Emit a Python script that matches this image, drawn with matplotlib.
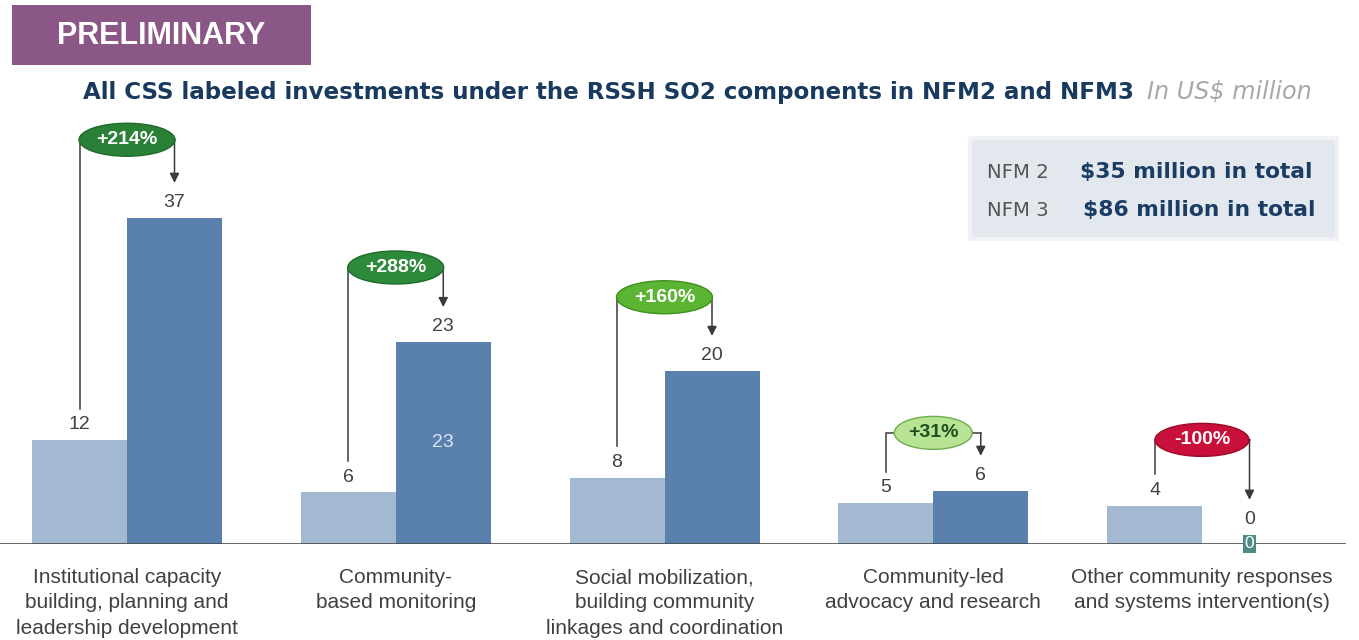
import numpy as np
import matplotlib
matplotlib.use("Agg")
import matplotlib.pyplot as plt
from matplotlib.patches import Ellipse, Rectangle

# ---------------- data ----------------
categories = [
    "Institutional capacity\nbuilding, planning and\nleadership development",
    "Community-\nbased monitoring",
    "Social mobilization,\nbuilding community\nlinkages and coordination",
    "Community-led\nadvocacy and research",
    "Other community responses\nand systems intervention(s)",
]
nfm2 = [11.9, 5.9, 7.6, 4.7, 4.4]
nfm3 = [37.3, 23.1, 19.8, 6.1, 0.0]
pct_labels = ["+214%", "+288%", "+160%", "+31%", "-100%"]
series_names = ["NFM 2", "NFM 3"]
totals = ["$35 million in total", "$86 million in total"]
title = "All CSS labeled investments under the RSSH SO2 components in NFM2 and NFM3"
unit = "In US$ million"
badge = "PRELIMINARY"

# ---------------- style / layout ----------------
W, H = 1359, 640
C2 = "#A3B9D1"
C3 = "#5A81AD"
bubble_fc = ["#2B8038", "#2E8A3B", "#5BB432", "#B8E394", "#C8103A"]
bubble_ec = ["#1F6A2A", "#1F6A2A", "#3F9020", "#6FAE4E", "#9A0A28"]
bubble_tc = ["white", "white", "white", "#1E4F1E", "white"]
bubble_lvl = [46.2, 31.6, 28.2, 12.7, 11.9]     # data units (layout)
bubble_w = [0.357, 0.357, 0.357, 0.29, 0.35]
TXT = "#404040"
LINE = "#3A3A3A"

plt.rcParams["font.family"] = ["Liberation Sans", "DejaVu Sans"]
fig = plt.figure(figsize=(W / 100, H / 100), dpi=100)
fig.patch.set_facecolor("white")

px_per_x = 268.75
px_per_y = 8.75
base_px = 544
x0 = 127
ax = fig.add_axes([0, (H - base_px) / H, 1, base_px / H])
ax.set_xlim(-x0 / px_per_x, (W - x0) / px_per_x)
ax.set_ylim(0, base_px / px_per_y)
ax.axis("off")

x = np.arange(len(categories))
bw = 95 / px_per_x
ax.bar(x - bw / 2, nfm2, width=bw, color=C2, zorder=2)
ax.bar(x + bw / 2, nfm3, width=bw, color=C3, zorder=2)
ax.axhline(0, xmin=0, xmax=1345 / W, color="#4A4A4A", lw=1.2, zorder=3)

lab_y2 = []
lab_y3 = []
for i in range(len(categories)):
    v2, v3 = nfm2[i], nfm3[i]
    y2 = v2 + 1.72
    y3 = v3 + 1.72 if v3 > 0 else 2.8
    lab_y2.append(y2)
    lab_y3.append(y3)
    ax.text(x[i] - bw / 2, y2, f"{v2:.0f}", ha="center", va="center",
            fontsize=14, color=TXT, zorder=4)
    ax.text(x[i] + bw / 2, y3, f"{v3:.0f}", ha="center", va="center",
            fontsize=14, color=TXT, zorder=4)
    if v3 == 0:
        ax.text(x[i] + bw / 2, 0, f"{v3:.0f}", ha="center", va="center",
                fontsize=12.5, color="white", zorder=5, clip_on=False,
                bbox=dict(boxstyle="square,pad=0.1", fc="#4F8A86", ec="none"))
    # category label
    ax.text(x[i], -2.75, categories[i], ha="center", va="top", fontsize=15,
            color=TXT, linespacing=1.42, multialignment="center", clip_on=False)

# inner label on second NFM3 bar
ax.text(x[1] + bw / 2, nfm3[1] / 2, f"{nfm3[1]:.0f}", ha="center", va="center",
        fontsize=14, color="#D9E6F4", zorder=4)

# change connectors and bubbles
for i in range(len(categories)):
    xl = x[i] - bw / 2
    xr = x[i] + bw / 2
    by = bubble_lvl[i]
    start = lab_y2[i] + 1.85
    tip = lab_y3[i] + 2.25
    ax.plot([xl, xl, xr], [start, by, by], color=LINE, lw=1.1, zorder=3,
            solid_joinstyle="miter")
    ax.annotate("", xy=(xr, tip), xytext=(xr, by),
                arrowprops=dict(arrowstyle="-|>", color=LINE, lw=1.1,
                                mutation_scale=14, shrinkA=0, shrinkB=0),
                zorder=3)
    e = Ellipse((x[i], by), bubble_w[i], 33 / px_per_y, fc=bubble_fc[i],
                ec=bubble_ec[i], lw=1.0, zorder=5)
    ax.add_patch(e)
    ax.text(x[i], by, pct_labels[i], ha="center", va="center", fontsize=14,
            fontweight="bold", color=bubble_tc[i], zorder=6)

# ---------------- decorations in pixel space ----------------
deco = fig.add_axes([0, 0, 1, 1], zorder=10)
deco.set_xlim(0, W)
deco.set_ylim(H, 0)
deco.axis("off")
deco.patch.set_alpha(0)

deco.add_patch(Rectangle((12, 5), 299, 60, fc="#8B5786", ec="none"))
deco.text(161, 36, badge, ha="center", va="center", fontsize=22,
          fontweight="bold", color="white")

renderer = fig.canvas.get_renderer()


def fit(t, target):
    bb = t.get_window_extent(renderer)
    t.set_fontsize(t.get_fontsize() * target / bb.width)


t = deco.text(83, 92, title, ha="left", va="center", fontsize=16,
              fontweight="bold", color="#183A5E", family="DejaVu Sans")
fit(t, 1054)
u = deco.text(1147, 92, unit, ha="left", va="center", fontsize=14,
              style="italic", color="#A8A8A8", family="DejaVu Sans")
fit(u, 165)

# totals box
deco.add_patch(Rectangle((968, 136), 371, 105, fc="#F0F2F6", ec="none"))
deco.add_patch(Rectangle((972, 140), 363, 97, fc="#E3E8EF", ec="none"))
for k, (yy, tx, w) in enumerate([(172, 1080, 233), (210, 1083, 233)]):
    n = deco.text(987, yy, series_names[k], ha="left", va="center", fontsize=12,
                  color="#555555", family="DejaVu Sans")
    fit(n, 62)
    s = deco.text(tx, yy, totals[k], ha="left", va="center", fontsize=16,
                  fontweight="bold", color="#1B3D64", family="DejaVu Sans")
    fit(s, w)

fig.savefig("out.png", dpi=100, facecolor="white")
